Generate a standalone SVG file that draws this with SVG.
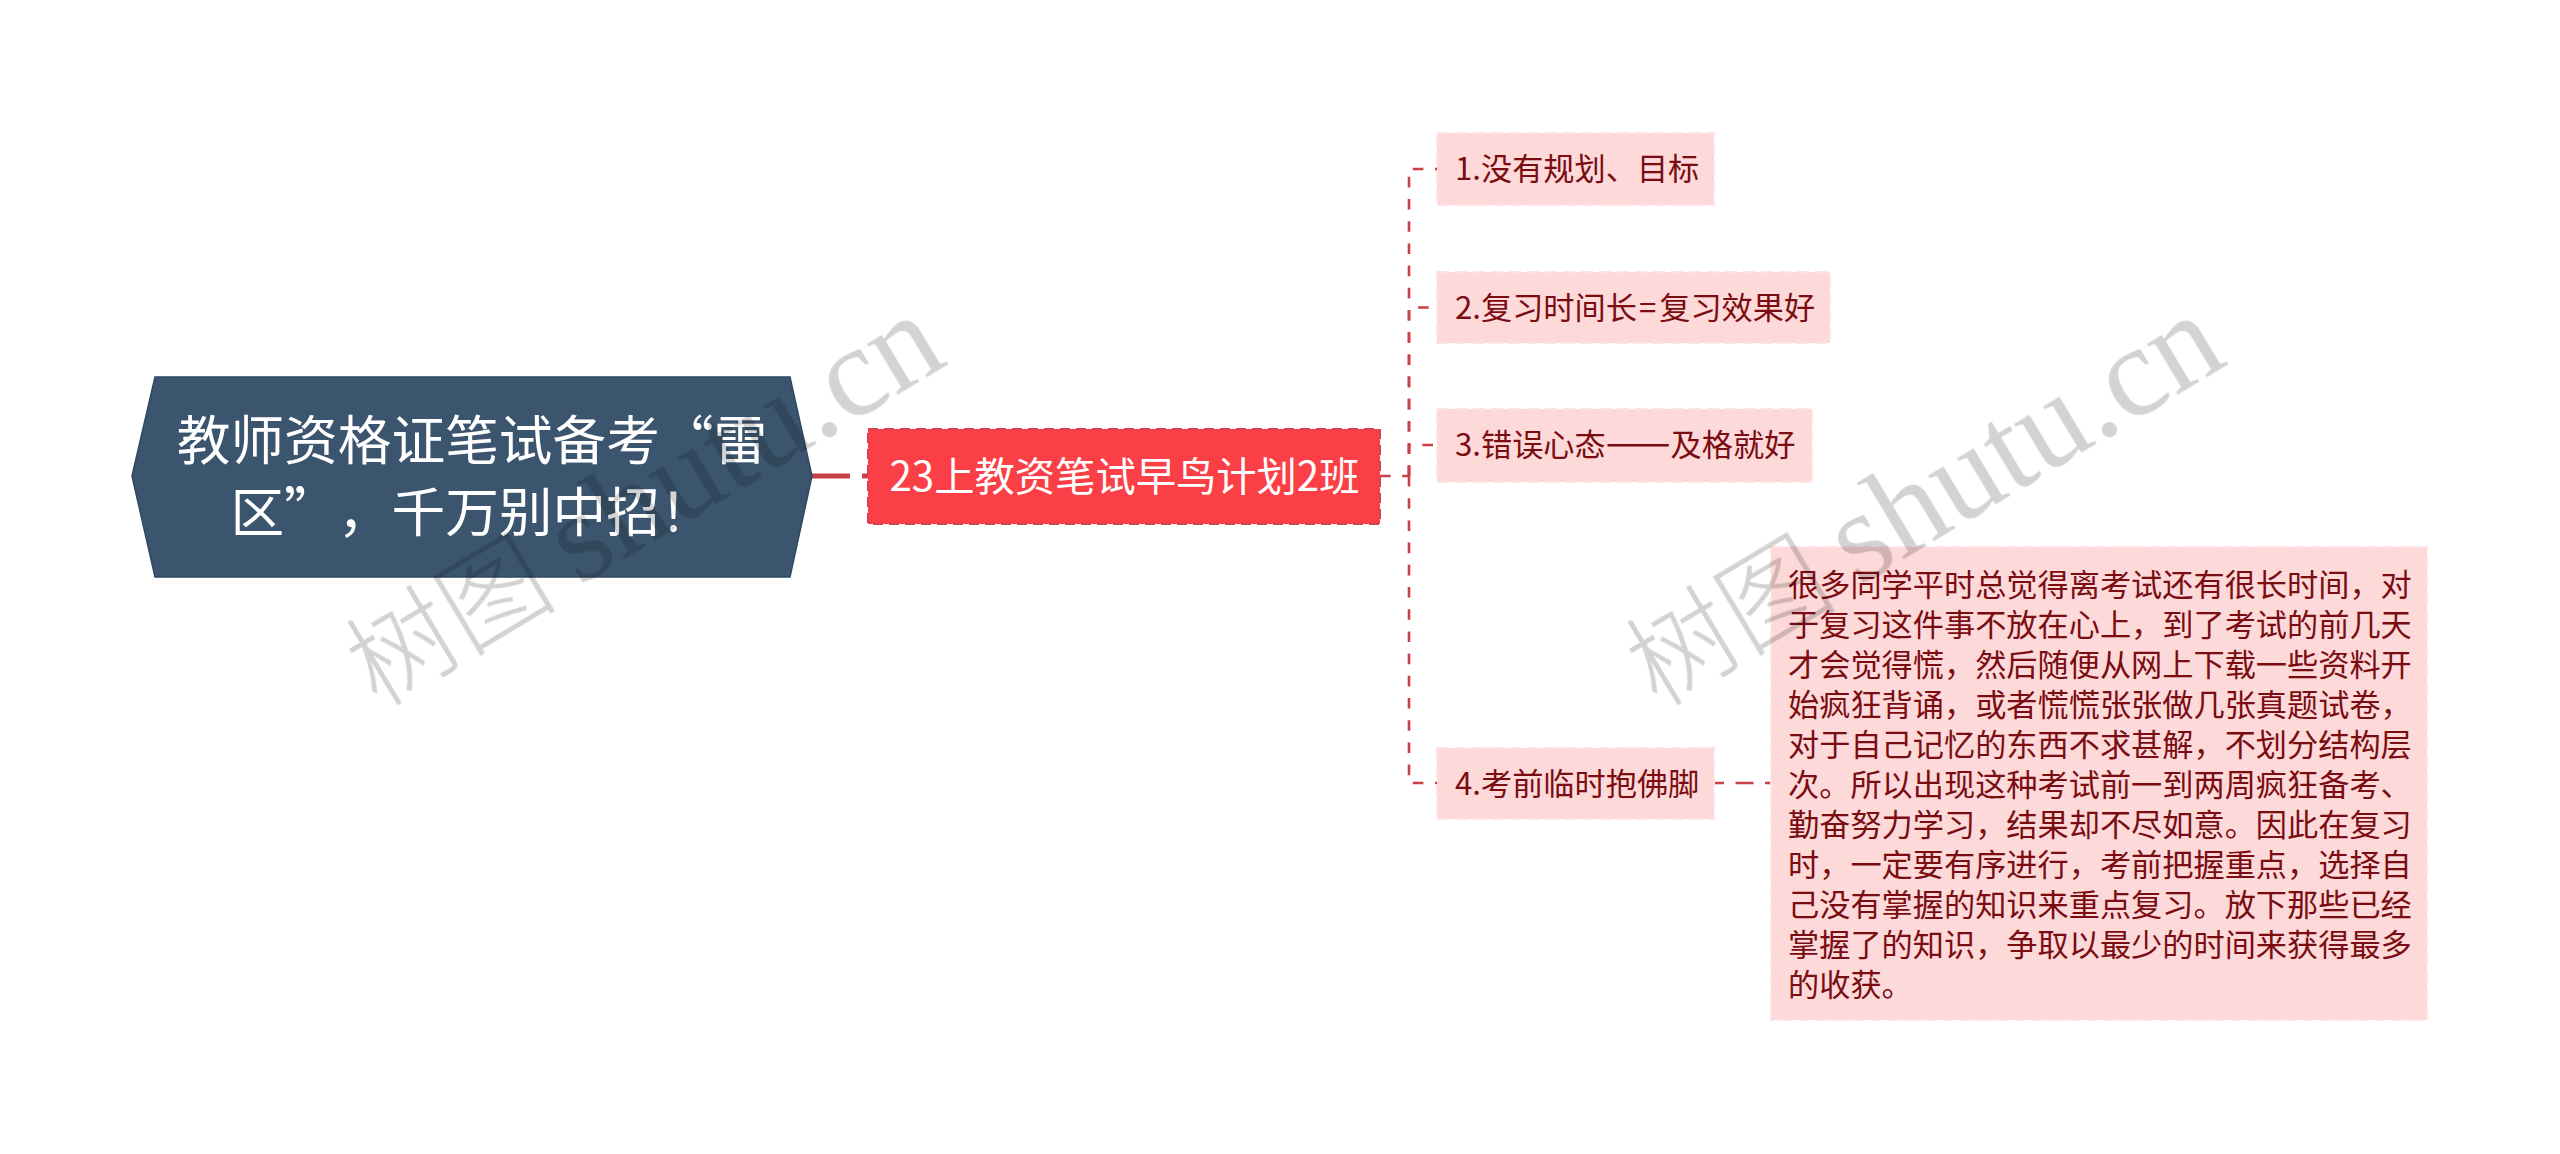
<svg xmlns="http://www.w3.org/2000/svg" width="2560" height="1154" viewBox="0 0 2560 1154">
<style>
text{font-family:"Noto Sans CJK SC","Liberation Sans",sans-serif;text-spacing-trim:space-all}
.root{fill:#3b556f;stroke:#2f4860;stroke-width:1.5}
.rootT{fill:#fff;font-size:53.7px;text-anchor:middle}
.branch{fill:#fb3f46;stroke:#d5444a;stroke-width:2;stroke-dasharray:10 6}
.branchT{fill:#fff;font-size:40.3px;text-anchor:middle}
.leaf{fill:#fdd9d9;stroke:#fde3e3;stroke-width:2;stroke-dasharray:12 6}
.leafT{fill:#7a0c12;font-size:31.2px}
.dash{font-size:38.7px}
.c{fill:none;stroke:#cb3f47;stroke-width:2.6}
.d{stroke-dasharray:10.6 11.6}
.wm text{fill:#d3d3d3;font-size:129px;font-family:"Liberation Serif","Noto Sans CJK SC",serif}
.wm .cjk{font-size:106px;font-weight:300;font-family:"Noto Sans CJK SC",serif}
.wm{mix-blend-mode:multiply}
</style>
<rect width="2560" height="1154" fill="#fff"/>
<g id="connectors">
<path class="c" d="M812 476H850" style="stroke-width:5"/>
<path class="c" d="M862 476H868" style="stroke-width:5"/>
<path class="c d" d="M1380 476H1409"/>
<path class="c d" d="M1409 476V169H1437"/>
<path class="c d" d="M1409 476V307.5H1437"/>
<path class="c d" d="M1409 476V445H1437"/>
<path class="c d" d="M1409 476V783H1437"/>
<path class="c" stroke-dasharray="18 11.5" stroke-dashoffset="8" d="M1714 783H1772"/>
</g>
<g id="node-root">
<polygon class="root" points="132,476 155,377 790,377 812,476 790,577 155,577"/>
<text class="rootT" x="472" y="460">教师资格证笔试备考“雷</text>
<text class="rootT" x="472" y="532">区”，千万别中招！</text>
</g>
<g id="node-branch">
<rect class="branch" x="868" y="429" width="512" height="95"/>
<text class="branchT" x="1124.5" y="491">23上教资笔试早鸟计划2班</text>
</g>
<g id="node-1">
<rect class="leaf" x="1437" y="133" width="277" height="72"/>
<text class="leafT" x="1455" y="180">1.没有规划、目标</text>
</g>
<g id="node-2">
<rect class="leaf" x="1437" y="272" width="393" height="71"/>
<text class="leafT" x="1455" y="319">2.复习时间长<tspan dx="2">=</tspan><tspan dx="3">复习效果好</tspan></text>
</g>
<g id="node-3">
<rect class="leaf" x="1437" y="409" width="375" height="73"/>
<text class="leafT" x="1455" y="456">3.错误心态<tspan class="dash">——</tspan>及格就好</text>
</g>
<g id="node-4">
<rect class="leaf" x="1437" y="748" width="277" height="71"/>
<text class="leafT" x="1455" y="795">4.考前临时抱佛脚</text>
</g>
<g id="node-5">
<rect class="leaf" x="1771" y="547" width="656" height="473"/>
<text class="leafT" x="1788" y="596">很多同学平时总觉得离考试还有很长时间，对</text>
<text class="leafT" x="1788" y="636">于复习这件事不放在心上，到了考试的前几天</text>
<text class="leafT" x="1788" y="676">才会觉得慌，然后随便从网上下载一些资料开</text>
<text class="leafT" x="1788" y="716">始疯狂背诵，或者慌慌张张做几张真题试卷，</text>
<text class="leafT" x="1788" y="756">对于自己记忆的东西不求甚解，不划分结构层</text>
<text class="leafT" x="1788" y="796">次。所以出现这种考试前一到两周疯狂备考、</text>
<text class="leafT" x="1788" y="836">勤奋努力学习，结果却不尽如意。因此在复习</text>
<text class="leafT" x="1788" y="876">时，一定要有序进行，考前把握重点，选择自</text>
<text class="leafT" x="1788" y="916">己没有掌握的知识来重点复习。放下那些已经</text>
<text class="leafT" x="1788" y="956">掌握了的知识，争取以最少的时间来获得最多</text>
<text class="leafT" x="1788" y="996">的收获。</text>
</g>
<g id="watermark" class="wm">
<text transform="translate(377 708) rotate(-31)"><tspan class="cjk">树图 </tspan>shutu.cn</text>
<text transform="translate(1657 708) rotate(-31)"><tspan class="cjk">树图 </tspan>shutu.cn</text>
</g>
</svg>
